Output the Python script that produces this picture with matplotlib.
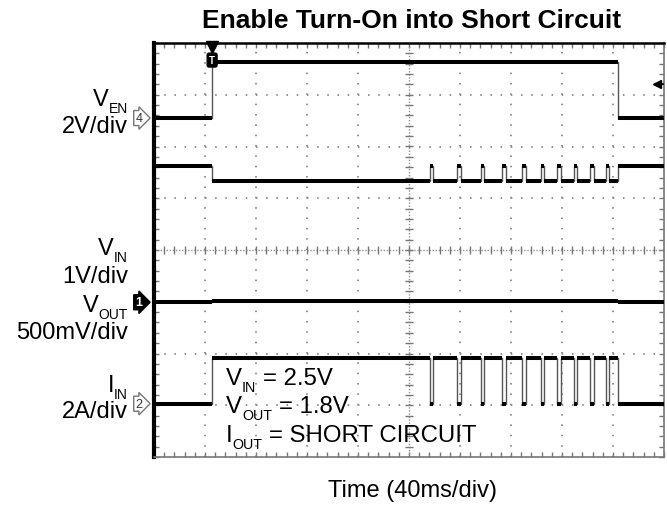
import numpy as np
import matplotlib
matplotlib.use("Agg")
import matplotlib.pyplot as plt
from matplotlib.ticker import MultipleLocator

plt.rcParams['font.family'] = ['Liberation Sans', 'DejaVu Sans']
plt.rcParams['lines.scale_dashes'] = False

# scope readings, in screen divisions (10 x 8 graticule)
t_enable_on = 1.14
t_enable_off = 9.10
ven_low = 6.55
ven_high = 7.63
vin_idle = 5.62
vin_loaded = 5.33
vin_after = 5.63
vin_pulse_top = 5.63
vout_idle = 2.99
vout_on = 3.02
iin_low = 1.03
iin_high = 1.91
# hiccup restarts seen on V_IN / I_IN
pulse_t = [5.41, 5.95, 6.41, 6.83, 7.22, 7.58, 7.91, 8.23, 8.55, 8.86]
pulse_w = 0.07

W, H = 667, 506


def segs_to_step(segs):
    xs, ys = [], []
    for t0, t1, lvl in segs:
        xs += [t0, t1]
        ys += [lvl, lvl]
    return np.array(xs), np.array(ys)


def pulsed(start_lvl, run_lvl, pulse_lvl, end_lvl):
    segs = [(0, t_enable_on, start_lvl)]
    t = t_enable_on
    for p in pulse_t:
        segs.append((t, p, run_lvl))
        segs.append((p, p + pulse_w, pulse_lvl))
        t = p + pulse_w
    segs.append((t, t_enable_off, run_lvl))
    segs.append((t_enable_off, 10, end_lvl))
    return segs


ven_segs = [(0, t_enable_on, ven_low), (t_enable_on, t_enable_off, ven_high),
            (t_enable_off, 10, ven_low)]
vin_segs = pulsed(vin_idle, vin_loaded, vin_pulse_top, vin_after)
vout_segs = [(0, t_enable_on, vout_idle), (t_enable_on, t_enable_off, vout_on),
             (t_enable_off, 10, vout_idle)]
iin_segs = pulsed(iin_low, iin_high, iin_low, iin_low)

fig = plt.figure(figsize=(W / 100, H / 100), dpi=100)
ax = fig.add_axes([154 / W, 48 / H, 510 / W, 414 / H])
ax.set_xlim(0, 10)
ax.set_ylim(0, 8)

# graticule
grid_c = '#8f8f8f'
for x in range(1, 10):
    if x == 5:
        continue
    ax.axvline(x, color=grid_c, lw=1.4, ls=(0, (1.1, 6.35)))
for y in range(1, 8):
    if y == 4:
        continue
    ax.axhline(y, color=grid_c, lw=1.4, ls=(0, (1.1, 6.24)))
ax.axvline(5, color=grid_c, lw=1.0, ls=(0, (1.0, 1.2)))
ax.axhline(4, color=grid_c, lw=1.0, ls=(0, (1.0, 1.2)))
mx = np.arange(0.2, 10, 0.2)
my = np.arange(0.2, 8, 0.2)
ax.plot(mx, np.full_like(mx, 4), ls='none', marker='|', ms=6, mew=1, color='#777777')
ax.plot(np.full_like(my, 5), my, ls='none', marker='_', ms=6, mew=1, color='#777777')

ax.xaxis.set_major_locator(MultipleLocator(1))
ax.yaxis.set_major_locator(MultipleLocator(1))
ax.xaxis.set_minor_locator(MultipleLocator(0.2))
ax.yaxis.set_minor_locator(MultipleLocator(0.2))
ax.tick_params(which='both', direction='in', length=3.5, width=1, color='#777777',
               top=True, right=True, labelbottom=False, labelleft=False)
ax.spines['left'].set_linewidth(3)
ax.spines['left'].set_color('black')
ax.spines['top'].set_linewidth(1.8)
ax.spines['top'].set_color('black')
for s in ('right', 'bottom'):
    ax.spines[s].set_linewidth(1.2)
    ax.spines[s].set_color('#777777')

# traces: thin edges, heavy flat tops (noise band)
for segs in (ven_segs, vin_segs, vout_segs, iin_segs):
    xs, ys = segs_to_step(segs)
    ax.plot(xs, ys, color='#555555', lw=1.0, zorder=4)
    for t0, t1, lvl in segs:
        ax.hlines(lvl, t0, t1, color='black', lw=2.9, zorder=5)

# channel reference markers
ax.annotate('4', xy=(0, ven_low), xytext=(-11, 0), textcoords='offset points',
            ha='center', va='center', fontsize=9, color='#333333', annotation_clip=False,
            bbox=dict(boxstyle='rarrow,pad=0.12', fc='white', ec='#777777', lw=1))
ax.annotate('1', xy=(0, vout_idle), xytext=(-11, 0), textcoords='offset points',
            ha='center', va='center', fontsize=9, color='white', weight='bold',
            annotation_clip=False,
            bbox=dict(boxstyle='rarrow,pad=0.12', fc='black', ec='black', lw=1))
ax.annotate('2', xy=(0, iin_low), xytext=(-11, 0), textcoords='offset points',
            ha='center', va='center', fontsize=9, color='#333333', annotation_clip=False,
            bbox=dict(boxstyle='rarrow,pad=0.12', fc='white', ec='#777777', lw=1))

# trigger position and level
ax.annotate('T', xy=(t_enable_on, 7.67), ha='center', va='center', fontsize=7,
            color='white', weight='bold', zorder=6,
            bbox=dict(boxstyle='round,pad=0.2', fc='black', ec='black'))
ax.plot([t_enable_on], [7.93], marker='v', ms=8, color='black', clip_on=False, zorder=6)
ax.plot([9.86], [7.21], marker='<', ms=6, color='black', zorder=6)
ax.plot([9.86, 9.98], [7.21, 7.21], color='black', lw=1.2, zorder=6)

renderer = fig.canvas.get_renderer()


def put(x, yb, s, size):
    return fig.text(x / W, 1 - yb / H, s, ha='left', va='baseline', fontsize=size, zorder=7)


def sub_label(x, yb, base, sub, rest, size, sub_size, drop, align='left'):
    # letter + small dropped subscript + optional tail, laid out in pixels
    parts = [(base, size, 0), (sub, sub_size, drop)]
    if rest:
        parts.append((rest, size, 0))
    texts = [put(0, yb + d, s, sz) for s, sz, d in parts]
    widths = [t.get_window_extent(renderer).width for t in texts]
    gap = 0.28 * size * 100 / 72 if rest else 0
    total = sum(widths) + gap
    cur = x if align == 'left' else x - total
    for i, (t, w) in enumerate(zip(texts, widths)):
        if i == 2:
            cur += gap
        t.set_x(cur / W)
        cur += w


fs = 17
sub_label(128, 106, 'V', 'EN', '', fs, 10, 7, align='right')
put(128, 133, '2V/div', fs).set_ha('right')
sub_label(128, 255, 'V', 'IN', '', fs, 10, 7, align='right')
put(128, 283, '1V/div', fs).set_ha('right')
sub_label(128, 312, 'V', 'OUT', '', fs, 10, 7, align='right')
put(128, 339, '500mV/div', fs).set_ha('right')
sub_label(128, 392, 'I', 'IN', '', fs, 10, 7, align='right')
put(128, 418, '2A/div', fs).set_ha('right')

sub_label(226, 385, 'V', 'IN', '= 2.5V', 17.3, 10.3, 7)
sub_label(226, 413, 'V', 'OUT', '= 1.8V', 17.3, 10.3, 7)
sub_label(226, 442, 'I', 'OUT', '= SHORT CIRCUIT', 17.3, 10.3, 7)

fig.text(412 / W, 1 - 28 / H, 'Enable Turn-On into Short Circuit', ha='center',
         va='baseline', fontsize=19, weight='bold')
fig.text(412 / W, 1 - 497 / H, 'Time (40ms/div)', ha='center', va='baseline', fontsize=17)

fig.savefig('out.png', dpi=100)
